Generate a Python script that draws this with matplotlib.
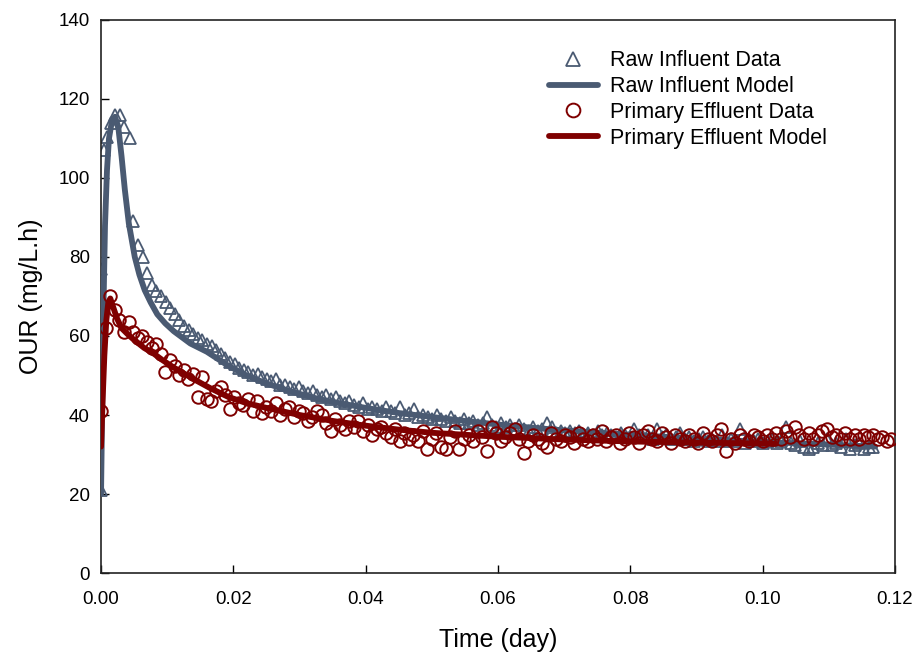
import numpy as np
import matplotlib
matplotlib.use("Agg")
import matplotlib.pyplot as plt

# ---- measured OUR data (mg/L.h) vs time (day) ----
SAMPLE_DT = 1.0 / 1440.0  # one reading per minute

# Raw influent: first readings around the peak, then the regular one-minute record
raw_head_t = [0.0000, 0.0000, 0.0004, 0.0009, 0.0015, 0.0021, 0.0029, 0.0034, 0.0044]
raw_head_v = [21, 77, 107, 110.5, 114, 116, 116, 113, 110]
raw_tail_start = 0.0049
raw_tail_v = [
    89, 83, 80, 76, 73, 71.5, 70, 68.5, 67, 65.5,
    64, 62.5, 61.5, 60.5, 59.5, 59, 58, 57.5, 56.5, 55.5,
    54.5, 53.5, 53, 52, 51.5, 51, 50, 50.5, 49.5, 49,
    48.5, 49, 47.5, 47.5, 47, 46.5, 47, 46, 45.5, 46,
    45, 44.5, 45, 44, 44.5, 43.5, 43, 43.5, 42.5, 42,
    43, 41.5, 42, 41.5, 41, 42, 41, 40.5, 42, 40,
    40.5, 41.5, 39.5, 40, 39.5, 39, 40, 39, 38.5, 39.5,
    38.5, 38, 39, 38, 38.5, 37.5, 38, 39.5, 37.5, 37,
    38, 37, 37.5, 36.5, 37.5, 36.5, 36, 37, 36, 36.5,
    38, 37, 35.5, 36, 35.5, 36, 35.5, 36, 35, 35.5,
    35, 36, 35, 35.5, 35, 34.5, 35.5, 35, 34.5, 36.5,
    35, 34.5, 35, 34, 36.5, 34.5, 35, 34, 34.5, 35.5,
    34, 34.5, 33.5, 34, 34.5, 33.5, 34, 33.5, 35, 33.5,
    34, 33.5, 36.5, 33, 34, 33.5, 34, 33, 33.5, 34,
    33, 33.5, 37, 33, 32.5, 33.5, 32, 31.5, 32, 33,
    32.5, 34, 32.5, 33, 32, 34, 31.5, 32.5, 33, 31.5,
    32, 32,
]

# Primary effluent: one-minute record from t = 0
primary_v = [
    41, 62, 70, 66.5, 64, 61, 63.5, 61, 59.5, 60,
    58.5, 57, 58, 55.5, 51, 54, 52.5, 50, 51.5, 49,
    50.5, 44.5, 49.5, 44, 43.5, 46, 47, 45, 41.5, 44.5,
    43, 42.5, 44, 41, 43.5, 40.5, 42, 41, 43, 40,
    41.5, 42, 39.5, 41, 40.5, 38.5, 39.5, 41, 40, 38,
    36, 39, 37.5, 36.5, 38.5, 37, 38.5, 36, 37.5, 35,
    36.5, 37, 35.5, 34.5, 36.5, 33.5, 35.5, 34, 35, 33.5,
    36, 31.5, 34, 35.5, 32, 31.5, 34.5, 36, 31.5, 34,
    35, 33.5, 36, 34.5, 31, 37, 35.5, 33.5, 34.5, 35.5,
    36.5, 34, 30.5, 33.5, 35, 34, 33, 32, 35.5, 34,
    33.5, 35, 34.5, 33, 35.5, 34, 33.5, 35, 34, 36,
    33.5, 34.5, 35, 33, 34, 35.5, 34.5, 33, 35, 36,
    34, 33.5, 35.5, 34.5, 33, 35, 34, 33.5, 35, 34,
    33, 35.5, 34, 33.5, 35, 36.5, 31, 34, 33, 35,
    34, 33.5, 35, 34.5, 33.5, 35, 34, 35.5, 34, 36,
    34.5, 37, 35, 34, 35.5, 34, 35, 36, 36.5, 34.5,
    35, 34, 35.5, 34, 35, 34, 35, 34.5, 35, 34,
    34.5, 33.5, 34,
]

# ---- fitted model curves ----
raw_model_t = [0, 0.0002, 0.0004, 0.0006, 0.0009, 0.0012, 0.0016, 0.0021, 0.0026,
               0.0031, 0.0036, 0.0042, 0.0051, 0.0058, 0.0066, 0.0075, 0.0085,
               0.0097, 0.011, 0.0135, 0.016, 0.0192, 0.022, 0.025, 0.0286, 0.033,
               0.036, 0.04, 0.045, 0.05, 0.055, 0.06, 0.065, 0.07, 0.08, 0.09,
               0.1, 0.11, 0.117]
raw_model_v = [20, 45, 70, 88, 102, 110, 114, 115.5, 113,
               105.5, 97, 88.5, 80, 75.5, 71.6, 68.5, 65.5,
               63.2, 61.2, 58.1, 56, 52.5, 50, 48, 46, 44,
               43, 41.8, 40.5, 39.5, 38.5, 37.6, 36.8, 36.1, 35, 34,
               33.2, 32.5, 32]

primary_model_t = [0, 0.0002, 0.0005, 0.0008, 0.0011, 0.0014, 0.0018, 0.0024, 0.0031,
                   0.004, 0.005, 0.0065, 0.008, 0.0092, 0.011, 0.0142, 0.0165,
                   0.0192, 0.022, 0.025, 0.03, 0.035, 0.04, 0.045, 0.05, 0.055,
                   0.06, 0.07, 0.08, 0.09, 0.1, 0.102]
primary_model_v = [32, 42, 55, 64, 68.5, 69.5, 67.5, 64.5, 62,
                   60.5, 59, 57, 55.5, 54, 52, 48.9, 46.8,
                   44.6, 43, 41.8, 40, 38.5, 37.3, 36.3, 35.5, 35,
                   34.5, 33.8, 33.3, 33, 32.8, 32.7]

x_ticks = [0.00, 0.02, 0.04, 0.06, 0.08, 0.10, 0.12]
y_ticks = [0, 20, 40, 60, 80, 100, 120, 140]

# assemble time axes for the records
raw_t = np.concatenate([raw_head_t, raw_tail_start + np.arange(len(raw_tail_v)) * SAMPLE_DT])
raw_v = np.concatenate([raw_head_v, raw_tail_v])
primary_t = np.arange(len(primary_v)) * SAMPLE_DT

BLUE = "#4a5a72"
RED = "#7f0000"

plt.rcParams["font.family"] = ["Liberation Sans", "DejaVu Sans"]

fig = plt.figure(figsize=(9.16, 6.53), dpi=100)
ax = fig.add_axes([0.1103, 0.1225, 0.8668, 0.8469])

ax.plot(raw_t, raw_v, linestyle="none", marker="^", ms=9, mfc="none",
        mec=BLUE, mew=1.3, label="Raw Influent Data", zorder=2)
ax.plot(raw_model_t, raw_model_v, color=BLUE, lw=4.2, solid_capstyle="round",
        label="Raw Influent Model", zorder=3)
ax.plot(primary_t, primary_v, linestyle="none", marker="o", ms=9, mfc="none",
        mec=RED, mew=1.4, label="Primary Effluent Data", zorder=4)
ax.plot(primary_model_t, primary_model_v, color=RED, lw=4.2, solid_capstyle="round",
        label="Primary Effluent Model", zorder=5)

ax.set_xlim(0, 0.12)
ax.set_ylim(0, 140)
ax.set_xticks(x_ticks)
ax.set_yticks(y_ticks)
ax.set_xticklabels([f"{v:.2f}" for v in x_ticks])
ax.set_yticklabels([str(v) for v in y_ticks])

for lbl in ax.get_xticklabels() + ax.get_yticklabels():
    lbl.set_fontsize(13.5)

ax.tick_params(axis="both", direction="in", length=6, width=1, top=False, right=False)
ax.tick_params(axis="x", pad=13)
ax.tick_params(axis="y", pad=8)
for s in ax.spines.values():
    s.set_linewidth(1.2)
    s.set_color("#222222")

ax.set_xlabel("Time (day)", fontsize=18, labelpad=14)
ax.set_ylabel("OUR (mg/L.h)", fontsize=18, labelpad=11)

ax.legend(loc="upper left", bbox_to_anchor=(0.5895, 0.936), bbox_transform=fig.transFigure,
          frameon=False, fontsize=15.5, numpoints=1, handlelength=2.3, markerscale=1.1,
          handletextpad=0.55, labelspacing=0.22, borderaxespad=0)

fig.savefig("out.png", dpi=100)
